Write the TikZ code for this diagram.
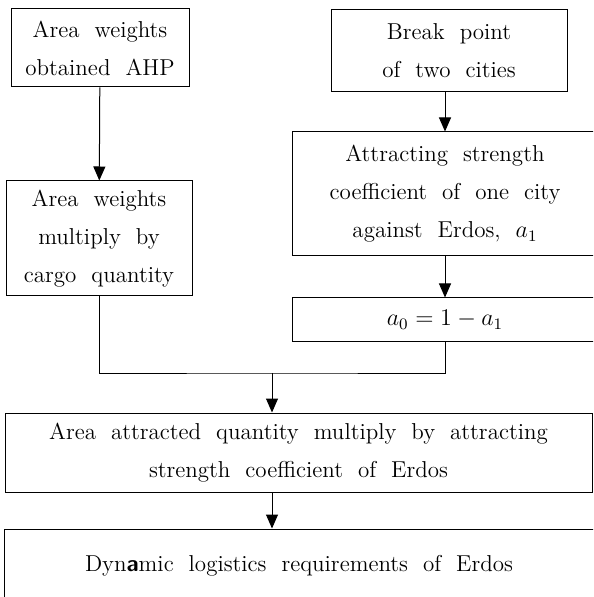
\documentclass[tikz,border=0pt]{standalone}
\usepackage{amsmath}
\usepackage{tikz}
\usetikzlibrary{positioning}
\usetikzlibrary{arrows.meta}

\begin{document}
\begin{tikzpicture}[x=0.5pt,y=-0.5pt]

          \tikzstyle{boxNode} = [draw, line width=0.5pt, inner sep=0pt, align=center,
                                 font=\fontsize{11.5}{19}\selectfont];
          \tikzstyle{normalEdge} = [line width=0.5pt];
          \tikzstyle{arrowEdge} = [line width=0.5pt, -{Triangle[width=6pt,length=7pt]}];

          \useasboundingbox (0,0) rectangle (593,597);
          \clip (0,0) rectangle (593,597);

          \node[boxNode, minimum width=89pt, minimum height=39pt] (ahp) at (100,48)
               {Area\ \ weights\\obtained\ \ AHP};
          \node[boxNode, minimum width=93pt, minimum height=57.5pt] (mult) at (99,238.5)
               {Area\ \ weights\\multiply\ \ by\\cargo\ \ quantity};
          \node[boxNode, minimum width=118pt, minimum height=41pt] (brk) at (449,51)
               {Break\ \ point\\of\ \ two\ \ cities};
          \node[boxNode, minimum width=153pt, minimum height=62pt] (attr) at (445,194)
               {Attracting\ \ strength\\coefficient\ \ of\ \ one\ \ city\\against\ \ Erdos,\ \ $a_1$};
          \node[boxNode, minimum width=153pt, minimum height=22pt] (azero) at (445,320)
               {$a_0 = 1 - a_1$};
          \node[boxNode, minimum width=293.5pt, minimum height=39.5pt] (area) at (298.5,452.5)
               {Area\ \ attracted\ \ quantity\ \ multiply\ \ by\ \ attracting\\strength\ \ coefficient\ \ of\ \ Erdos};
          \node[boxNode, minimum width=295pt, minimum height=37pt] (dyn) at (299,566)
               {Dyn\textsf{\textbf{a}}mic\ \ logistics\ \ requirements\ \ of\ \ Erdos};

          \coordinate (join) at (272,373);

          \draw[arrowEdge] (ahp) -- (mult);
          \draw[arrowEdge] (attr.north |- brk.south) -- (attr.north);
          \draw[arrowEdge] (attr) -- (azero);
          \draw[normalEdge] (mult.south) |- (join) -| (azero.south);
          \draw[arrowEdge] (join) -- (join |- area.north);
          \draw[arrowEdge] (join |- area.south) -- (join |- dyn.north);
        \end{tikzpicture}
\end{document}
